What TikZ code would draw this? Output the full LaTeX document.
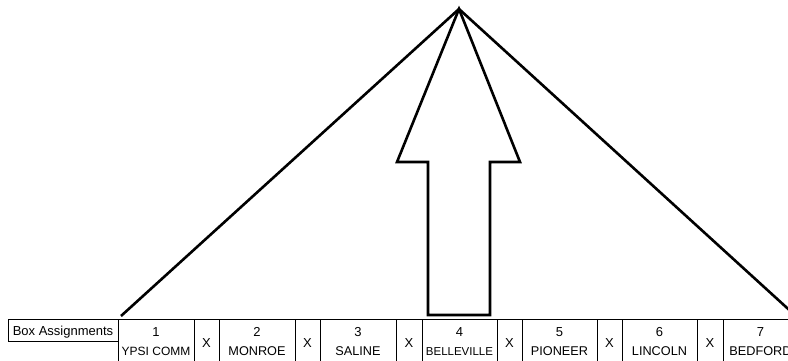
\documentclass[tikz,border=0pt]{standalone}
\usepackage{fontspec}
\setmainfont{Liberation Sans}
\begin{document}
\begin{tikzpicture}[x=1pt,y=-1pt,
  heavy/.style={line width=2.6pt, line join=miter},
  cell/.style={draw, line width=1pt},
  lbl/.style={anchor=base, inner sep=0pt, font=\fontsize{12.7}{14}\selectfont}]
\useasboundingbox (0,0) rectangle (788,360);
\clip (0,0) rectangle (788,360);
% triangle and arrow
\coordinate (apex) at (459,9);
\coordinate (L) at (121,316);
\coordinate (R) at (797,317);
\draw[heavy] (L) -- (apex) -- (R);
\draw[heavy] (apex) -- (520,162) -- (490,162) -- (490,315) -- (428,315) -- (428,162) -- (397,162) -- cycle;
% table
\draw[cell] (8,319) rectangle (118,341);
\foreach \a/\b in {118/194,194/219,219/295,295/320,320/396,396/422,422/497,497/522,522/597,597/622,622/697,697/723,723/798}
  \draw[cell] (\a,319) rectangle (\b,370);
\node[lbl, font=\fontsize{13}{14}\selectfont] (ba) at (63,335) {Box Assignments};
% numbers
\foreach \n/\x in {1/156,2/257,3/358,4/459.5,5/559.5,6/659.5,7/760.5}
  \node[lbl, font=\fontsize{13}{14}\selectfont] (num\n) at (\x,336) {\n};
% X separators
\foreach \i/\x in {1/206.5,2/307.5,3/409,4/509.5,5/609.5,6/710}
  \node[lbl, font=\fontsize{13}{14}\selectfont] (x\i) at (\x,347) {X};
% names
\node[lbl, font=\fontsize{12}{14}\selectfont] (n1) at (156,355) {YPSI COMM};
\node[lbl] (n2) at (257,355) {MONROE};
\node[lbl] (n3) at (358,355) {SALINE};
\node[lbl, font=\fontsize{11.5}{14}\selectfont] (n4) at (459.5,355) {BELLEVILLE};
\node[lbl] (n5) at (559.5,355) {PIONEER};
\node[lbl] (n6) at (659.5,355) {LINCOLN};
\node[lbl] (n7) at (760.5,355) {BEDFORD};
\end{tikzpicture}
\end{document}
